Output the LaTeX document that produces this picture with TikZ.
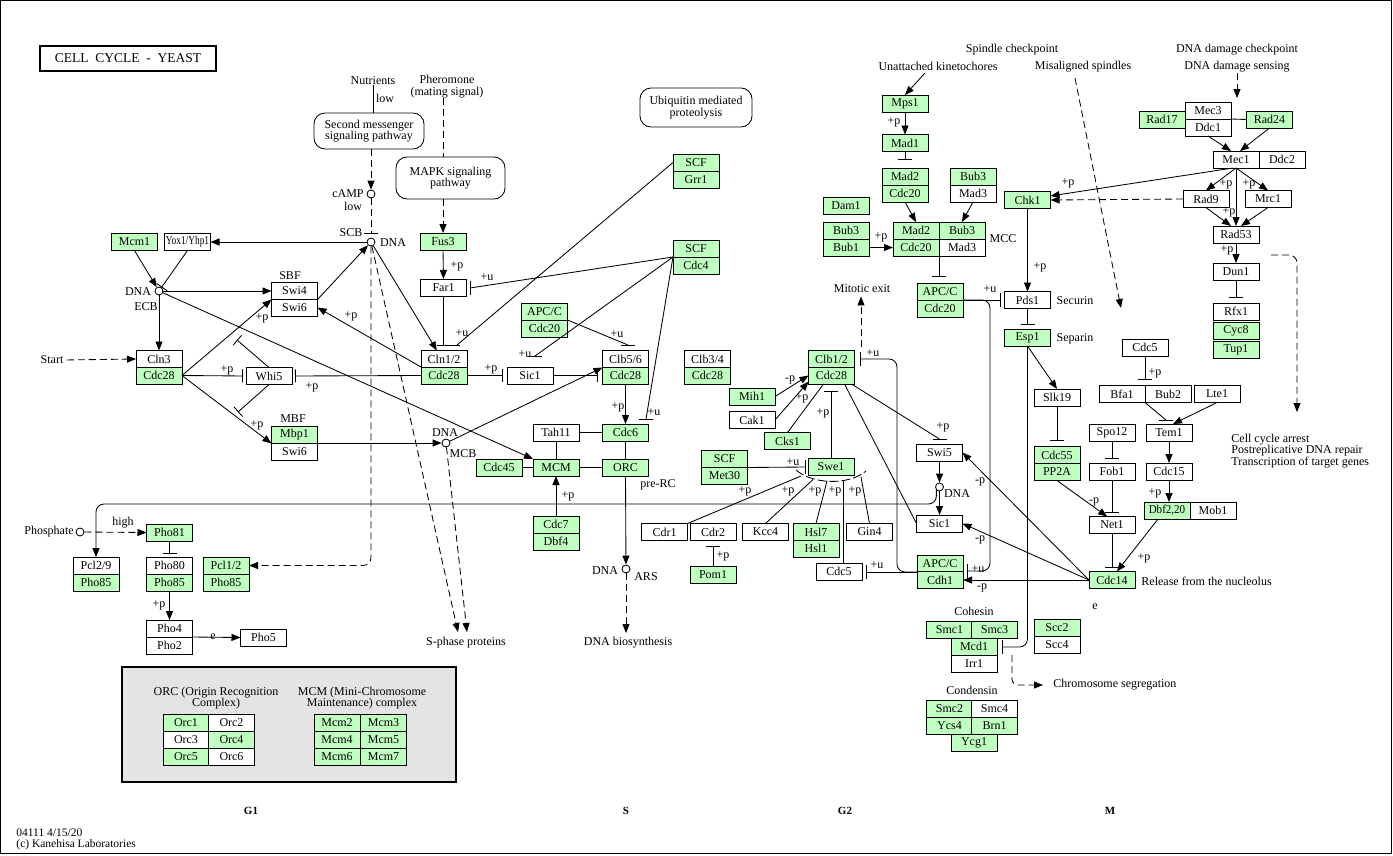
\documentclass[tikz,border=0pt]{standalone}
\usepackage{graphicx}
\usepackage{fontspec}
\setmainfont{Liberation Serif}
\usetikzlibrary{arrows.meta,calc}
\definecolor{kgreen}{RGB}{191,255,191}
\definecolor{kgray}{RGB}{228,228,228}
\newcommand{\gf}{\fontsize{12}{11.5}\selectfont}
\newcommand{\hbarat}[1]{\draw ([xshift=-7pt]#1) -- ([xshift=7pt]#1);}
\newcommand{\vbarat}[1]{\draw ([yshift=-7pt]#1) -- ([yshift=7pt]#1);}
\tikzset{
  gene/.style={draw, minimum width=46pt, minimum height=17pt, inner sep=0pt, outer sep=0pt},
  gbox/.style={gene, fill=kgreen},
  wbox/.style={gene, fill=white},
  cpd/.style={circle, draw, fill=white, minimum size=8pt, inner sep=0pt},
  mapbox/.style={draw, rounded corners=11pt, align=center, inner sep=0pt},
  lbl/.style={inner sep=0pt},
  act/.style={-{Triangle[length=9pt,width=7pt]}},
  inh/.style={-{Bar[width=13pt]}},
  dsh/.style={dash pattern=on 7pt off 4pt},
}
\begin{document}
\begin{tikzpicture}[x=1pt,y=-1pt,line width=0.85pt,font=\gf]
\useasboundingbox (0,0) rectangle (1393,855);
\draw (0.5,0.5) rectangle (1391,853.5);

% ---------- title ----------
\node[draw, line width=1.6pt, minimum width=176pt, minimum height=25pt, inner sep=0pt, font=\fontsize{13.5}{14}\selectfont] (title) at (128,58.5) {CELL\ \ CYCLE\ \ -\ \ YEAST};

% ---------- left nodes ----------
\node[gbox] (mcm1) at (134.5,242) {Mcm1};
\node[wbox] (yox) at (187.5,242) {\scalebox{0.78}[1]{Yox1/Yhp1}};
\node[lbl] (sbf) at (290,276) {SBF};
\node[wbox] (swi4) at (294.5,291) {Swi4};
\node[wbox] (swi6a) at (294.5,307.5) {Swi6};
\node[wbox] (cln3) at (159,359) {Cln3};
\node[gbox] (cdc28a) at (159,375.5) {Cdc28};
\node[wbox] (whi5) at (269,376) {Whi5};
\node[lbl] (mbf) at (293,419) {MBF};
\node[gbox] (mbp1) at (294.5,435) {Mbp1};
\node[wbox] (swi6b) at (294.5,451.5) {Swi6};
\node[gbox] (pho81) at (169.5,532.5) {Pho81};
\node[wbox] (pcl29) at (96,565.5) {Pcl2/9};
\node[gbox] (pho85a) at (96,582.5) {Pho85};
\node[wbox] (pho80) at (169.5,565.5) {Pho80};
\node[gbox] (pho85b) at (169.5,582.5) {Pho85};
\node[gbox] (pcl12) at (226,565.5) {Pcl1/2};
\node[gbox] (pho85c) at (226,582.5) {Pho85};
\node[wbox] (pho4) at (169.5,628.5) {Pho4};
\node[wbox] (pho2) at (169.5,645.5) {Pho2};
\node[wbox] (pho5) at (263.5,637.5) {Pho5};

% ---------- middle nodes ----------
\node[gbox] (fus3) at (443,241.5) {Fus3};
\node[wbox] (far1) at (443.5,287.5) {Far1};
\node[gbox] (scf1) at (696,162.5) {SCF};
\node[gbox] (grr1) at (696,179.5) {Grr1};
\node[gbox] (scf2) at (696,248.5) {SCF};
\node[gbox] (cdc4) at (696,265.5) {Cdc4};
\node[gbox] (apcc1) at (544.5,311.5) {APC/C};
\node[gbox] (cdc20a) at (544.5,328.5) {Cdc20};
\node[wbox] (cln12) at (444,359) {Cln1/2};
\node[gbox] (cdc28b) at (444,375.5) {Cdc28};
\node[wbox] (sic1a) at (530,375.5) {Sic1};
\node[wbox] (clb56) at (625.5,359) {Clb5/6};
\node[gbox] (cdc28c) at (625.5,375.5) {Cdc28};
\node[wbox] (clb34) at (707.5,359) {Clb3/4};
\node[gbox] (cdc28d) at (707.5,375.5) {Cdc28};
\node[wbox] (tah11) at (556,432.5) {Tah11};
\node[gbox] (cdc6) at (625.5,432.5) {Cdc6};
\node[gbox] (cdc45) at (499,467.5) {Cdc45};
\node[gbox] (mcm) at (556,467.5) {MCM};
\node[gbox] (orc) at (625.5,467.5) {ORC};
\node[gbox] (cdc7) at (556,524.5) {Cdc7};
\node[gbox] (dbf4) at (556,541.5) {Dbf4};

% ---------- maps ----------
\node[mapbox, minimum width=110pt, minimum height=36pt] (msg) at (369,131) {Second messenger\\signaling pathway};
\node[mapbox, minimum width=109pt, minimum height=42pt] (mapk) at (450.5,178) {MAPK signaling\\pathway};
\node[mapbox, minimum width=112pt, minimum height=39pt] (ubq) at (696,107.5) {Ubiquitin mediated\\proteolysis};

% ---------- compounds ----------
\node[cpd] (dnaecb) at (159,291) {};
\node[cpd] (dnascb) at (371,242) {};
\node[cpd] (camp) at (371,194) {};
\node[cpd] (dnamcb) at (446,443) {};
\node[cpd] (dnaars) at (626,569) {};
\node[cpd] (phos) at (80,532) {};
\node[cpd] (dnasw) at (939.5,487) {};

% ---------- left texts ----------
\node[lbl] (nutr) at (373,81) {Nutrients};
\node[lbl] at (385,98) {low};
\node[lbl, align=center] (pher) at (447,86.5) {Pheromone\\(mating signal)};
\node[lbl] at (348,194) {cAMP};
\node[lbl] at (353,206) {low};
\node[lbl] at (351,233) {SCB};
\node[lbl] at (393,243) {DNA};
\node[lbl] at (138,292) {DNA};
\node[lbl] at (146,307) {ECB};
\node[lbl] (start) at (52,360) {Start};
\node[lbl] at (49,532) {Phosphate};
\node[lbl] at (123,523) {high};
\node[lbl] at (213,637) {e};
\node[lbl] at (445,433) {DNA};
\node[lbl] at (463,454) {MCB};
\node[lbl] at (605,571) {DNA};
\node[lbl] at (646,577) {ARS};
\node[lbl] at (658,485) {pre-RC};
\node[lbl] (spha) at (466,643) {S-phase proteins};
\node[lbl] (dnabio) at (628,643) {DNA biosynthesis};

% ---------- right nodes ----------
\node[gbox] (mps1) at (905,103.5) {Mps1};
\node[gbox] (mad1) at (905,143) {Mad1};
\node[gbox] (mad2a) at (905,176.5) {Mad2};
\node[gbox] (cdc20b) at (905,193.5) {Cdc20};
\node[gbox] (bub3a) at (973,176.5) {Bub3};
\node[wbox] (mad3a) at (973,193.5) {Mad3};
\node[gbox] (dam1) at (846,205.5) {Dam1};
\node[gbox] (bub3b) at (846,230.5) {Bub3};
\node[gbox] (bub1) at (846,247.5) {Bub1};
\node[gbox] (mad2m) at (916,230.5) {Mad2};
\node[gbox] (bub3m) at (962,230.5) {Bub3};
\node[gbox] (cdc20m) at (916,247.5) {Cdc20};
\node[wbox] (mad3m) at (962,247.5) {Mad3};
\node[gbox] (apcc2) at (940,291.5) {APC/C};
\node[gbox] (cdc20c) at (940,308.5) {Cdc20};
\node[gbox] (chk1) at (1027.5,200) {Chk1};
\node[wbox] (pds1) at (1027.5,300) {Pds1};
\node[gbox] (esp1) at (1027.5,337.5) {Esp1};
\node[wbox] (mec3) at (1208,110.5) {Mec3};
\node[wbox] (ddc1) at (1208,127.5) {Ddc1};
\node[gbox] (rad17) at (1162,119.5) {Rad17};
\node[gbox] (rad24) at (1269.5,119.5) {Rad24};
\node[wbox] (mec1) at (1236,159.5) {Mec1};
\node[wbox] (ddc2) at (1282,159.5) {Ddc2};
\node[wbox] (rad9) at (1206,199) {Rad9};
\node[wbox] (mrc1) at (1268,199) {Mrc1};
\node[wbox] (rad53) at (1236,234.5) {Rad53};
\node[wbox] (dun1) at (1236,271.5) {Dun1};
\node[wbox] (rfx1) at (1236,311.5) {Rfx1};
\node[gbox] (cyc8) at (1236,331) {Cyc8};
\node[gbox] (tup1) at (1236,350) {Tup1};
\node[wbox] (slk19) at (1057,397.5) {Slk19};
\node[wbox] (cdc5a) at (1145,347.5) {Cdc5};
\node[wbox] (bfa1) at (1122,394) {Bfa1};
\node[wbox] (bub2) at (1168,394) {Bub2};
\node[wbox] (lte1) at (1217,394) {Lte1};
\node[wbox] (spo12) at (1112,432.5) {Spo12};
\node[wbox] (tem1) at (1169,432.5) {Tem1};
\node[gbox] (cdc55) at (1057,455) {Cdc55};
\node[gbox] (pp2a) at (1057,472) {PP2A};
\node[wbox] (fob1) at (1112,471.5) {Fob1};
\node[wbox] (cdc15) at (1169,471.5) {Cdc15};
\node[gbox] (dbf2) at (1167,510.5) {\scalebox{0.92}[1]{Dbf2,20}};
\node[wbox] (mob1) at (1213,510.5) {Mob1};
\node[wbox] (net1) at (1112,525) {Net1};
\node[gbox] (cdc14) at (1112,580) {Cdc14};

\node[gbox] (clb12) at (831.5,359) {Clb1/2};
\node[gbox] (cdc28e) at (831.5,375.5) {Cdc28};
\node[gbox] (mih1) at (752,396.5) {Mih1};
\node[wbox] (cak1) at (752,420) {Cak1};
\node[gbox] (cks1) at (787.5,441) {Cks1};
\node[gbox] (scf3) at (724.5,459) {SCF};
\node[gbox] (met30) at (724.5,475.5) {Met30};
\node[gbox] (swe1) at (831,466.5) {Swe1};
\node[wbox] (swi5) at (939.5,452.5) {Swi5};
\node[wbox] (sic1b) at (939.5,523.5) {Sic1};
\node[wbox] (cdr1) at (664.5,532) {Cdr1};
\node[wbox] (cdr2) at (713,532) {Cdr2};
\node[wbox] (kcc4) at (765.5,532) {Kcc4};
\node[gbox] (hsl7) at (816,532) {Hsl7};
\node[gbox] (hsl1) at (816,548.5) {Hsl1};
\node[wbox] (gin4) at (869.5,532) {Gin4};
\node[gbox] (pom1) at (713,574.5) {Pom1};
\node[wbox] (cdc5b) at (839,571.5) {Cdc5};
\node[gbox] (apcc3) at (940,563.5) {APC/C};
\node[gbox] (cdh1) at (940,580) {Cdh1};

\node[lbl] at (974,611) {Cohesin};
\node[gbox] (smc1) at (949.5,630) {Smc1};
\node[gbox] (smc3) at (994.5,630) {Smc3};
\node[gbox] (mcd1) at (974,646.5) {Mcd1};
\node[wbox] (irr1) at (974,663.5) {Irr1};
\node[gbox] (scc2) at (1057,628) {Scc2};
\node[wbox] (scc4) at (1057,645) {Scc4};
\node[lbl] at (972,690) {Condensin};
\node[gbox] (smc2) at (949.5,708.5) {Smc2};
\node[wbox] (smc4) at (994.5,708.5) {Smc4};
\node[gbox] (ycs4) at (949.5,725.5) {Ycs4};
\node[gbox] (brn1) at (994.5,725.5) {Brn1};
\node[gbox] (ycg1) at (974,743) {Ycg1};

% ---------- right texts ----------
\node[lbl] at (1012,50) {Spindle checkpoint};
\node[lbl] (unatt) at (938,66) {Unattached kinetochores};
\node[lbl] (misal) at (1083,67) {Misaligned spindles};
\node[lbl] at (1237,50) {DNA damage checkpoint};
\node[lbl] (dds) at (1237,67) {DNA damage sensing};
\node[lbl] (mitex) at (862,289) {Mitotic exit};
\node[lbl] at (1003,239) {MCC};
\node[lbl] at (1075,301) {Securin};
\node[lbl] at (1075,339) {Separin};
\node[lbl, align=left, anchor=west] at (1231,451) {Cell cycle arrest\\Postreplicative DNA repair\\Transcription of target genes};
\node[lbl, anchor=west] at (1141,581) {Release from the nucleolus};
\node[lbl] at (1095,607) {e};
\node[lbl, anchor=west] (chromo) at (1053,685) {Chromosome segregation};
\node[lbl] at (957,494) {DNA};

% ---------- legend ----------
\node[draw, line width=1.6pt, fill=kgray, minimum width=334pt, minimum height=115pt, inner sep=0pt] (legend) at (289,724.5) {};
\node[lbl, align=center] at (216,698) {ORC (Origin Recognition\\Complex)};
\node[lbl, align=center] at (362,698) {MCM (Mini-Chromosome\\Maintenance) complex};
\node[gbox] (orc1) at (186,722.5) {Orc1};
\node[wbox] (orc2) at (231.5,722.5) {Orc2};
\node[wbox] (orc3) at (186,739.5) {Orc3};
\node[gbox] (orc4) at (231.5,739.5) {Orc4};
\node[gbox] (orc5) at (186,756.5) {Orc5};
\node[wbox] (orc6) at (231.5,756.5) {Orc6};
\node[gbox] (mcm2) at (337,722.5) {Mcm2};
\node[gbox] (mcm3) at (383.5,722.5) {Mcm3};
\node[gbox] (mcm4) at (337,739.5) {Mcm4};
\node[gbox] (mcm5) at (383.5,739.5) {Mcm5};
\node[gbox] (mcm6) at (337,756.5) {Mcm6};
\node[gbox] (mcm7) at (383.5,756.5) {Mcm7};

\begin{scope}[every node/.style={lbl, font=\bfseries\fontsize{11}{11}\selectfont}]
\node at (251,811) {G1};
\node at (626,811) {S};
\node at (845,811) {G2};
\node at (1110,811) {M};
\end{scope}
\node[lbl, anchor=west, font=\fontsize{11.5}{11}\selectfont] at (16,833) {04111 4/15/20};
\node[lbl, anchor=west, font=\fontsize{11.5}{11}\selectfont] at (16,845) {(c) Kanehisa Laboratories};

% ================= connectors: left =================
\draw[dsh,act,shorten <=3pt] (start.east) -- (cln3.west);
\draw[act] (mcm1.south) -- (dnaecb);
\draw[inh] (yox.south) -- (dnaecb);
\draw[act] (dnaecb) -- (swi4.west);
\draw[act] (dnaecb) -- (cln3.north);
\draw[act] (dnaecb) -- (mcm.north west);
\draw[act] (dnascb) -- (yox.east);
\draw[act] (swi4.south east) -- (dnascb);
\draw[act] (cdc28b.north west) -- (swi6a.east);
\draw[inh,shorten >=3pt] (cdc28b.west) -- (whi5.east);
\draw[inh,shorten >=3pt] (cdc28a.east) -- (whi5.west);
\draw[act] (cdc28a.east) -- (swi4.south west);
\draw[act] (cdc28a.east) -- (mbp1.south west);
\coordinate (wb1) at (237,340);
\coordinate (wb2) at (238,412);
\draw[inh] (whi5.north) -- (wb1);
\draw[inh] (whi5.south) -- (wb2);
\draw[act] (swi6b.north east) -- (dnamcb);
\draw[act] (dnamcb) -- (clb56.south west);

\draw (nutr.south) -- (nutr.south |- msg.north);
\draw[dsh,act] (camp |- msg.south) -- (camp);
\coordinate (scbbar) at (371,233);
\draw[dsh] (camp) -- (scbbar);
\hbarat{scbbar}
\draw[dsh] (pher.south -| fus3) -- (fus3 |- mapk.north);
\draw[dsh,act] (fus3 |- mapk.south) -- (fus3.north);
\draw[act] (fus3.south) -- (far1.north);
\coordinate (f1bar) at (443.5,345);
\draw (far1.south) -- (f1bar);
\draw ([xshift=-7pt]f1bar) -- ([xshift=16pt]f1bar);
\coordinate (grbar) at (457,345);
\draw (scf1.west) -- (grbar);
\draw[act] (dnascb) -- (cln12.130);
\coordinate (far1bar) at (470,288);
\draw (scf2.south west) -- (far1bar);
\vbarat{far1bar}
\coordinate (sicbar) at (535,356);
\draw (scf2.south west) -- (sicbar);
\hbarat{sicbar}
\coordinate (cdc6bar) at (646,419);
\draw (scf2.south west) -- (cdc6bar);
\hbarat{cdc6bar}
\coordinate (clb56bar) at (628,345);
\draw (apcc1.south east) -- (clb56bar);
\hbarat{clb56bar}
\draw[inh,shorten >=4pt] (cdc28b.east) -- (sic1a.west);
\draw[inh,shorten >=5pt] (sic1a.east) -- (cdc28c.west);
\draw[act] (cdc28c.south) -- (cdc6.north);
\draw (tah11.east) -- (cdc6.west);
\draw (tah11.south) -- (mcm.north);
\draw (cdc45.east) -- (mcm.west);
\draw (mcm.east) -- (orc.west);
\draw (cdc6.south) -- (orc.north);
\draw[act] (cdc7.north) -- (mcm.south);
\draw[act] (orc.south) -- (dnaars);
\coordinate (biotop) at (626,633);
\draw[dsh,act] (dnaars) -- (biotop);
\coordinate (sp1) at (458,632);
\coordinate (sp2) at (467,632);
\draw[dsh,act] (dnascb) -- (sp1);
\draw[dsh,act] (dnamcb) -- (sp2);
\draw[dsh,act,rounded corners=8pt] (dnascb) -- (dnascb |- pcl12.east) -- (pcl12.east);

\draw[dsh,act] (phos) -- (pho81.west);
\coordinate (l504) at (96,504);
\draw[act,rounded corners=8pt] (dnasw.south west) |- (l504) -- (pcl29.north);
\coordinate (p81bar) at (169.5,553);
\draw (pho81.south) -- (p81bar);
\hbarat{p81bar}
\draw[act] (pho85b.south) -- (pho4.north);
\draw[act] (pho4.south east) -- (pho5.west);

% ================= connectors: right =================
\coordinate (uk) at (925,73);
\draw[act] (uk) -- (mps1.north);
\draw[act] (mps1.south) -- (mad1.north);
\coordinate (m1bar) at (905,159);
\draw (mad1.south) -- (m1bar);
\hbarat{m1bar}
\draw[act] (cdc20b.south) -- (mad2m.north);
\draw[act] (mad3a.south) -- (bub3m.north);
\draw[act] (bub1.east) -- (cdc20m.west);
\coordinate (mccbar) at (939,276);
\draw (mad3m.south west) -- (mccbar);
\hbarat{mccbar}
\coordinate (pdsbar) at (1000,300);
\draw (apcc2.south east) -- (pdsbar);
\vbarat{pdsbar}
\coordinate (rv) at (990,300);
\coordinate (cdhbar) at (967,571);
\draw[rounded corners=8pt] (apcc2.south east) -- (rv) |- (cdhbar);
\vbarat{cdhbar}
\draw[act] (chk1.south) -- (pds1.north);
\coordinate (pdbar) at (1027.5,324);
\draw (pds1.south) -- (pdbar);
\hbarat{pdbar}
\draw[act] (esp1.south) -- (slk19.north);
\coordinate (mcdbar) at (1002,647);
\draw[rounded corners=8pt] (esp1.south) |- (mcdbar);
\vbarat{mcdbar}
\coordinate (chs) at (1012,655);
\draw[dsh,act,rounded corners=6pt,shorten >=10pt] (chs) |- (chromo.west);
\coordinate (ms1) at (1075,78);
\coordinate (ms2) at (1121,308);
\draw[dsh,act] (ms1) -- (ms2);

\coordinate (ddsend) at (1237,98);
\draw[dsh,act] (dds.south) -- (ddsend);
\draw (ddc1.north east) -- (rad24.west);
\draw[act] (ddc1.south) -- ([xshift=-5pt]mec1.north);
\draw[act] (rad24.south) -- ([xshift=4pt]mec1.north);
\draw[act] ([xshift=-3pt]mec1.south) -- (chk1.10);
\draw[dsh,act] (rad9.west) -- (chk1.east);
\draw[act] (mec1.south) -- (rad9.north);
\draw[act] (mec1.south) -- (mrc1.north);
\draw[act] (mec1.south) -- (rad53.north);
\draw[act] (rad9.south) -- ([xshift=-5pt]rad53.north);
\draw[act] (mrc1.south) -- ([xshift=5pt]rad53.north);
\draw[act] (rad53.south) -- (dun1.north);
\coordinate (dnbar) at (1236,297);
\draw (dun1.south) -- (dnbar);
\hbarat{dnbar}
\coordinate (da1) at (1271,255);
\coordinate (da2) at (1297,412);
\draw[dsh,act,rounded corners=8pt] (da1) -| (da2);
\coordinate (c5bar) at (1145,379);
\draw (cdc5a.south) -- (c5bar);
\hbarat{c5bar}
\coordinate (tembar) at (1166,420);
\draw (bfa1.south east) -- (tembar);
\hbarat{tembar}
\draw[act] (lte1.south) -- ([xshift=4pt]tem1.north);
\draw[act] (tem1.south) -- (cdc15.north);
\draw[act] (cdc15.south) -- (cdc15.south |- dbf2.north);
\coordinate (s55bar) at (1057,440);
\draw (slk19.south) -- (s55bar);
\hbarat{s55bar}
\coordinate (fobbar) at (1112,458);
\draw (spo12.south) -- (fobbar);
\hbarat{fobbar}
\draw[act] (pp2a.south) -- (net1.120);
\coordinate (netbar) at (1112,512);
\draw (fob1.south) -- (netbar);
\hbarat{netbar}
\coordinate (c14bar) at (1112,567);
\draw (net1.south) -- (c14bar);
\hbarat{c14bar}
\draw[act] ([xshift=-9pt]dbf2.south) -- (cdc14.60);
\draw[act] (cdc14.west) -- (swi5.east);
\draw[act] (cdc14.west) -- (sic1b.east);
\draw[act] (cdc14.west) -- (cdh1.east);

% Clb1/2 region
\coordinate (mex1) at (861,347);
\draw[dsh,act,shorten >=3pt] (mex1) -- (mex1 |- mitex.south);
\coordinate (clbbar) at (860,359);
\coordinate (clbr) at (897,359);
\draw[rounded corners=8pt] (apcc3.south west) -| (clbr) -- (clbbar);
\vbarat{clbbar}
\coordinate (c5bbar) at (866,572);
\draw (apcc3.south west) -- (c5bbar);
\vbarat{c5bbar}
\draw[act] (mih1.east) -- (cdc28e.west);
\draw[act] (cak1.east) -- (cdc28e.195);
\draw (cks1.north) -- ([xshift=-8pt]cdc28e.south);
\coordinate (swebar) at (831,391);
\draw (swe1.north) -- (swebar);
\hbarat{swebar}
\coordinate (metbar) at (805,467);
\draw (scf3.south east) -- (metbar);
\vbarat{metbar}
\coordinate (a1) at (801,476);
\coordinate (a2) at (813,479.5);
\coordinate (a3) at (827,481);
\coordinate (a4) at (843,481);
\coordinate (a5) at (861,477);
\draw[dash pattern=on 9pt off 3pt] (796,470) .. controls (812,484) and (848,486) .. (866,471);
\draw (cdr1.north east) -- (a1);
\draw (kcc4.north) -- (a2);
\draw (hsl7.north) -- (a3);
\draw ([xshift=4pt]cdc5b.north) -- (a4);
\draw (gin4.north) -- (a5);
\coordinate (sw5bar) at (939.5,439);
\draw ([xshift=-3pt]cdc28e.south east) -- (sw5bar);
\hbarat{sw5bar}
\draw ([xshift=13pt]cdc28e.south) -- (sic1b.west);
\draw[act] (swi5.south) -- (dnasw);
\draw[act] (dnasw) -- (sic1b.north);
\coordinate (cdr2bar) at (713,546);
\draw (pom1.north) -- (cdr2bar);
\hbarat{cdr2bar}

% ================= small labels =================
\begin{scope}[every node/.style={lbl}]
\node at (351,316) {+p};
\node at (262,318) {+p};
\node at (227,370) {+p};
\node at (312,387) {+p};
\node at (257,425) {+p};
\node at (457,266) {+p};
\node at (487,277) {+u};
\node at (462,333) {+u};
\node at (491,369) {+p};
\node at (525,354) {+u};
\node at (617,334) {+u};
\node at (618,407) {+p};
\node at (654,412) {+u};
\node at (568,496) {+p};
\node at (159,605) {+p};
\node at (894,122) {+p};
\node at (881,237) {+p};
\node at (990,289) {+u};
\node at (1040,267) {+p};
\node at (1068,183) {+p};
\node at (1226,184) {+p};
\node at (1249,184) {+p};
\node at (1229,212) {+p};
\node at (1227,250) {+p};
\node at (1155,373) {+p};
\node at (1094,502) {-p};
\node at (1155,493) {+p};
\node at (1144,558) {+p};
\node at (873,353) {+u};
\node at (790,380) {-p};
\node at (802,398) {+p};
\node at (823,413) {+p};
\node at (793,462) {+u};
\node at (943,427) {+p};
\node at (980,482) {-p};
\node at (980,540) {-p};
\node at (982,588) {-p};
\node at (978,569) {+u};
\node at (877,565) {+u};
\node at (723,556) {+p};
\node at (745,491) {+p};
\node at (788,491) {+p};
\node at (815,491) {+p};
\node at (835,491) {+p};
\node at (855,491) {+p};
\end{scope}
\end{tikzpicture}
\end{document}
